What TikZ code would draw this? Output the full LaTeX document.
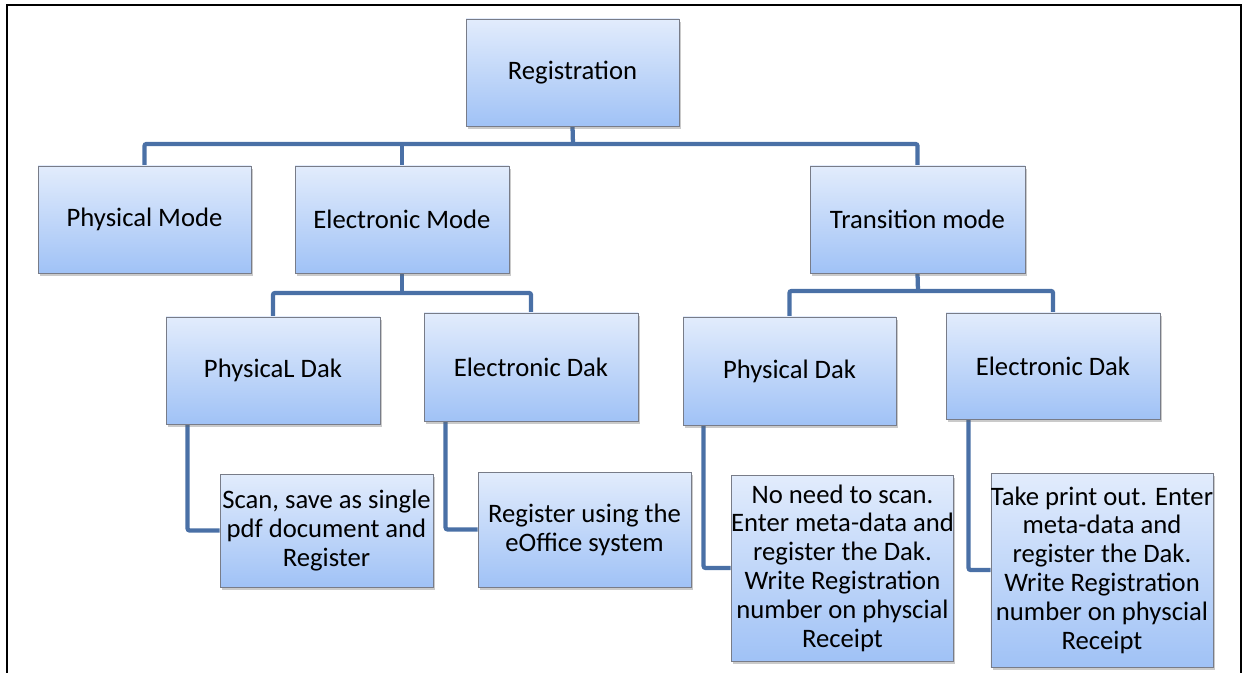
\documentclass[tikz,border=0pt]{standalone}
\usepackage{fontspec}
\setmainfont{Carlito}
\usetikzlibrary{shadows,backgrounds}
\definecolor{conn}{RGB}{74,112,166}
\definecolor{boxtop}{RGB}{226,236,252}
\definecolor{boxbot}{RGB}{160,194,246}
\definecolor{boxline}{RGB}{120,124,136}
\tikzset{
  bx/.style={rectangle, draw=boxline, line width=0.6pt, top color=boxtop, bottom color=boxbot,
    align=center, inner sep=0pt, text=black,
    font=\fontsize{20}{21.6}\selectfont,
    drop shadow={shadow xshift=1.2pt, shadow yshift=-2pt, opacity=0.35, fill=black!60}},
  cn/.style={draw=conn, line width=3.2pt, rounded corners=1.5pt},
}
\begin{document}
\begin{tikzpicture}[x=0.75pt,y=-0.75pt]
\useasboundingbox (0,0) rectangle (1249,673);
\draw[line width=1.6pt] (7,673) -- (7,5) -- (1241,5) -- (1241,673);

\node[bx, minimum width=213*0.75pt, minimum height=107*0.75pt] (reg) at (572.5,72.5) {Registration};
\node[bx, minimum width=213*0.75pt, minimum height=107*0.75pt] (pm) at (144.5,219.5) {Physical Mode};
\node[bx, minimum width=214*0.75pt, minimum height=107*0.75pt] (em) at (402,219.5) {Electronic Mode};
\node[bx, minimum width=215*0.75pt, minimum height=107*0.75pt] (tm) at (917.5,219.5) {Transition mode};

\node[bx, minimum width=214*0.75pt, minimum height=107*0.75pt] (pdl) at (273,370.5) {PhysicaL Dak};
\node[bx, minimum width=214*0.75pt, minimum height=108*0.75pt] (edl) at (531,367) {Electronic Dak};
\node[bx, minimum width=213*0.75pt, minimum height=108*0.75pt] (pdr) at (789.5,371) {Physical Dak};
\node[bx, minimum width=214*0.75pt, minimum height=106*0.75pt] (edr) at (1053,366) {Electronic Dak};

\node[bx, minimum width=213*0.75pt, minimum height=113*0.75pt] (scan) at (326.5,530.5) {Scan, save as single\\pdf document and\\Register};
\node[bx, minimum width=213*0.75pt, minimum height=115*0.75pt] (regu) at (584.5,529.5) {Register using the\\eOffice system};
\node[bx, minimum width=215*0.75pt, minimum height=186*0.75pt] (noneed) at (842.5,568) {No need to scan.\\Enter meta-data and\\register the Dak.\\Write Registration\\number on physcial\\Receipt};
\node[bx, minimum width=214*0.75pt, minimum height=194*0.75pt] (take) at (1102,570) {Take print out. Enter\\meta-data and\\register the Dak.\\Write Registration\\number on physcial\\Receipt};

\coordinate (b1) at (573,144);
\coordinate (b2) at (402,293);
\coordinate (b3) at (918,291);

\begin{scope}[on background layer]
  \draw[cn] (reg.south) -- (b1);
  \draw[cn] (pm.north) |- (b1) -| (tm.north);
  \draw[cn] (em.north) -- (em.north |- b1);
  \draw[cn] (em.south) -- (b2);
  \draw[cn] (pdl.north) |- (b2) -| (edl.north);
  \draw[cn] (tm.south) -- (b3);
  \draw[cn] (pdr.north) |- (b3) -| (edr.north);
  \draw[cn] ([xshift=22*0.75pt]pdl.south west) |- (scan.west);
  \draw[cn] ([xshift=22*0.75pt]edl.south west) |- (regu.west);
  \draw[cn] ([xshift=21*0.75pt]pdr.south west) |- (noneed.west);
  \draw[cn] ([xshift=23*0.75pt]edr.south west) |- (take.west);
\end{scope}
\end{tikzpicture}
\end{document}
